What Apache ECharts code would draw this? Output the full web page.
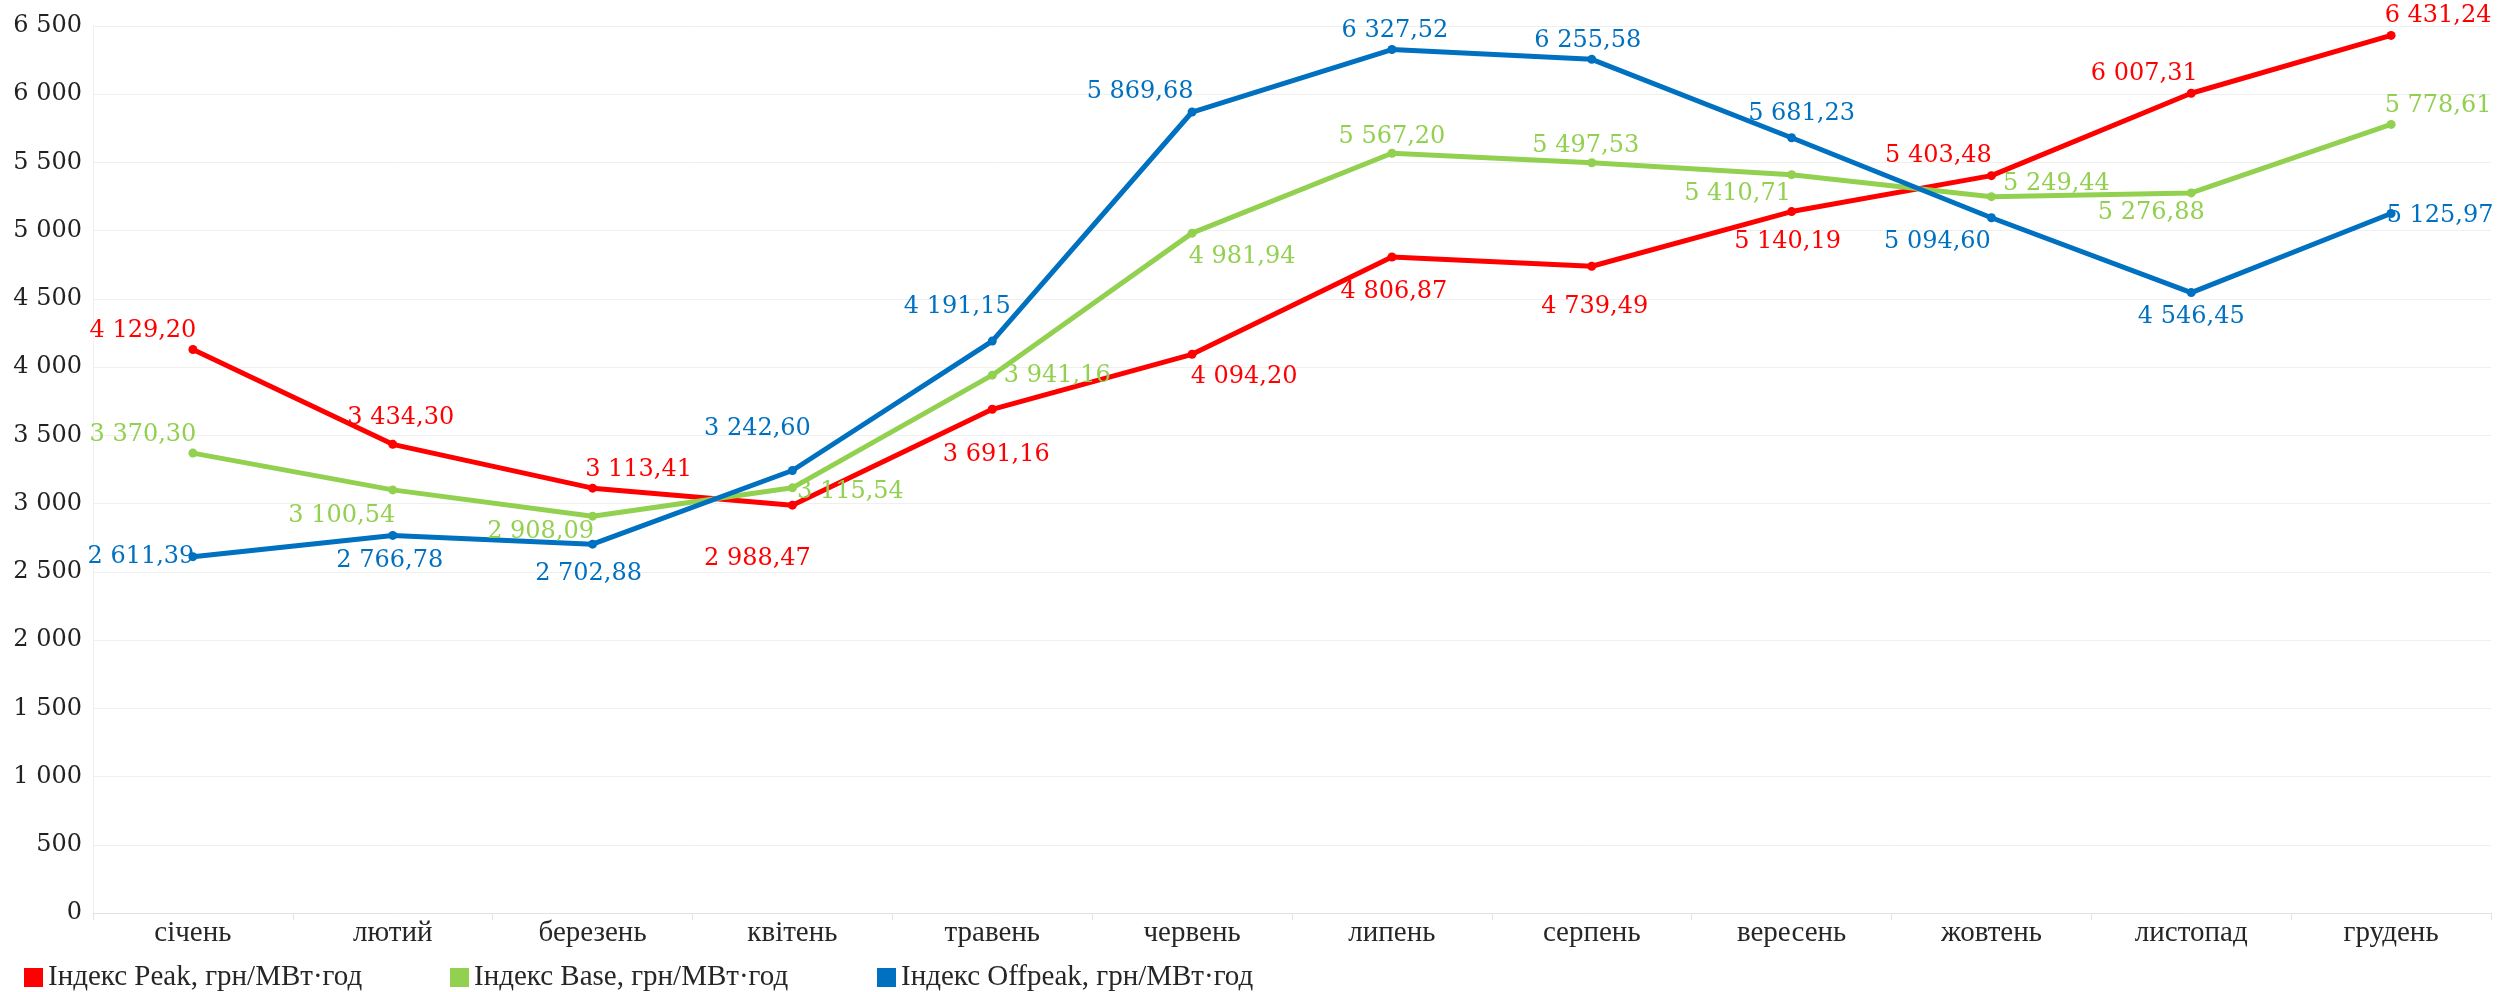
<!DOCTYPE html>
<html>
<head>
<meta charset="utf-8">
<title>Індекси Peak / Base / Offpeak</title>
<script src="https://cdn.jsdelivr.net/npm/echarts@6/dist/echarts.min.js"></script>
<style>
  html, body { margin: 0; padding: 0; background: #ffffff; }
  #chart { width: 2519px; height: 992px; }
</style>
</head>
<body>
<div id="chart"></div>
<script>
// місяці
const months = ["січень", "лютий", "березень", "квітень", "травень", "червень",
  "липень", "серпень", "вересень", "жовтень", "листопад", "грудень"];

// назви рядів
const namePeak = "Індекс Peak, грн/МВт·год";
const nameBase = "Індекс Base, грн/МВт·год";
const nameOffpeak = "Індекс Offpeak, грн/МВт·год";

// значення
const peakValues = [4129.20, 3434.30, 3113.41, 2988.47, 3691.16, 4094.20,
  4806.87, 4739.49, 5140.19, 5403.48, 6007.31, 6431.24];
const baseValues = [3370.30, 3100.54, 2908.09, 3115.54, 3941.16, 4981.94,
  5567.20, 5497.53, 5410.71, 5249.44, 5276.88, 5778.61];
const offpeakValues = [2611.39, 2766.78, 2702.88, 3242.60, 4191.15, 5869.68,
  6327.52, 6255.58, 5681.23, 5094.60, 4546.45, 5125.97];

// ручні зсуви підписів (як у вихідній діаграмі)
const peakLabelShift = [[-50, -19], [8, -27], [46, -18], [-35, 54], [4, 45], [52, 22],
  [2, 35], [3, 41], [-4, 30], [-53, -20], [-47, -19], [47, -20]];
const baseLabelShift = [[-50, -18], [-51, 26], [-52, 16], [58, 4], [65, 1], [50, 24],
  [0, -17], [-6, -17], [-54, 19], [65, -13], [-40, 20], [47, -19]];
const offpeakLabelShift = [[-52, 0], [-3, 25], [-4, 30], [-35, -42], [-35, -34], [-52, -20],
  [3, -19], [-4, -19], [10, -24], [-54, 24], [0, 24], [49, 2]];

const serifNum = "'DejaVu Serif', 'Liberation Serif', serif";
const serifText = "'Liberation Serif', 'DejaVu Serif', serif";

// 4129.2 -> "4 129,20"
function fmt(v, digits) {
  let s = v.toFixed(digits);
  let parts = s.split(".");
  let int = parts[0].replace(/\B(?=(\d{3})+(?!\d))/g, " ");
  return parts.length > 1 ? int + "," + parts[1] : int;
}

function makeSeries(name, values, shifts, color) {
  return {
    name: name,
    type: "line",
    data: values.map(function (v, i) {
      return {
        value: v,
        label: { offset: shifts[i] }
      };
    }),
    symbol: "circle",
    symbolSize: 9,
    lineStyle: { color: color, width: 5 },
    itemStyle: { color: color },
    label: {
      show: true,
      position: "inside",
      align: "center",
      verticalAlign: "middle",
      color: color,
      fontFamily: serifNum,
      fontSize: 24,
      formatter: function (p) { return fmt(p.value, 2); }
    },
    emphasis: { disabled: true },
    z: 3
  };
}

const chart = echarts.init(document.getElementById("chart"));
chart.setOption({
  animation: false,
  backgroundColor: "#ffffff",
  grid: { left: 93, right: 28, top: 26, bottom: 79 },
  legend: [
    { data: [namePeak], left: 19, top: 958 },
    { data: [nameBase], left: 445, top: 958 },
    { data: [nameOffpeak], left: 872, top: 958 }
  ].map(function (l) {
    return Object.assign(l, {
      icon: "rect",
      itemWidth: 19,
      itemHeight: 19,
      selectedMode: false,
      textStyle: { fontFamily: serifText, fontSize: 29, color: "#262626" }
    });
  }),
  xAxis: {
    type: "category",
    data: months,
    boundaryGap: true,
    axisLine: { show: true, lineStyle: { color: "#e3e3e3", width: 1 } },
    axisTick: { show: true, length: 7, lineStyle: { color: "#e3e3e3" } },
    axisLabel: {
      margin: 6,
      fontFamily: serifText,
      fontSize: 29,
      color: "#262626"
    }
  },
  yAxis: {
    type: "value",
    min: 0,
    max: 6500,
    interval: 500,
    axisLine: { show: true, lineStyle: { color: "#f0f0f0" } },
    axisTick: { show: false },
    splitLine: { lineStyle: { color: "#efefef", width: 1 } },
    axisLabel: {
      margin: 11,
      fontFamily: serifNum,
      fontSize: 24,
      color: "#222222",
      formatter: function (v) { return fmt(v, 0); }
    }
  },
  series: [
    makeSeries(namePeak, peakValues, peakLabelShift, "#ff0000"),
    makeSeries(nameBase, baseValues, baseLabelShift, "#92d050"),
    makeSeries(nameOffpeak, offpeakValues, offpeakLabelShift, "#0070c0")
  ]
});
</script>
</body>
</html>
